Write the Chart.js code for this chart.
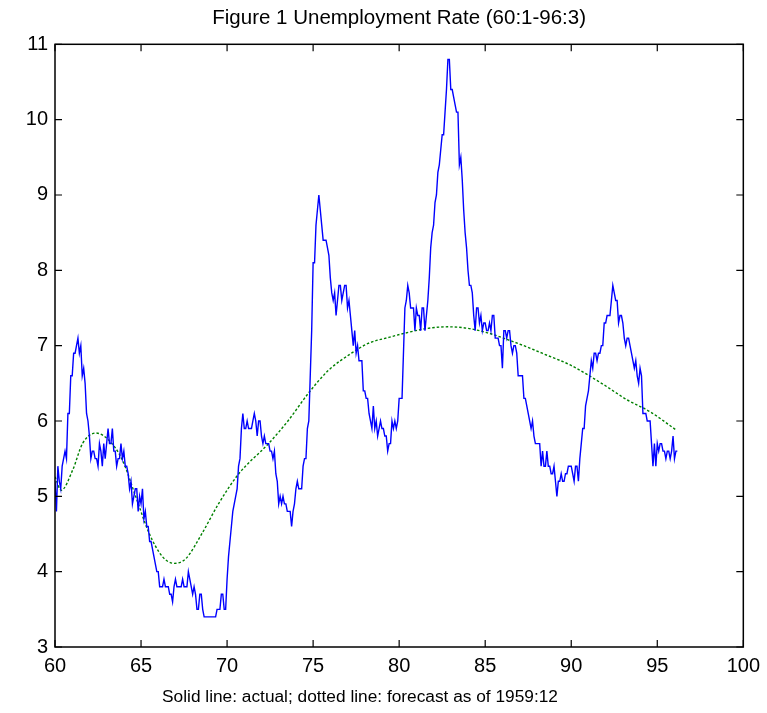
<!DOCTYPE html>
<html>
<head>
<meta charset="utf-8">
<title>Unemployment Rate</title>
<script src="https://cdn.jsdelivr.net/npm/chart.js@4.4.1/dist/chart.umd.min.js"></script>
<style>
  html,body{margin:0;padding:0;background:#fff;}
  #wrap{width:767px;height:713px;}
</style>
</head>
<body>
<div id="wrap"><canvas id="chart" width="767" height="713"></canvas></div>
<script>
// Texts
const titleText = 'Figure 1 Unemployment Rate (60:1-96:3)';
const xLabelText = 'Solid line: actual; dotted line: forecast as of 1959:12';

// Actual unemployment rate, monthly from 60:1 (one row per year)
const startYear = 60;
const actual = [
  5.2, 4.8, 5.4, 5.2, 5.1, 5.4, 5.5, 5.6, 5.5, 6.1, 6.1, 6.6,   // 60
  6.6, 6.9, 6.9, 7.0, 7.1, 6.9, 7.0, 6.6, 6.7, 6.5, 6.1, 6.0,   // 61
  5.8, 5.5, 5.6, 5.6, 5.5, 5.5, 5.4, 5.7, 5.6, 5.4, 5.7, 5.5,   // 62
  5.7, 5.9, 5.7, 5.7, 5.9, 5.6, 5.6, 5.4, 5.5, 5.5, 5.7, 5.5,   // 63
  5.6, 5.4, 5.4, 5.3, 5.1, 5.2, 4.9, 5.0, 5.1, 5.1, 4.8, 5.0,   // 64
  4.9, 5.1, 4.7, 4.8, 4.6, 4.6, 4.4, 4.4, 4.3, 4.2, 4.1, 4.0,   // 65
  4.0, 3.8, 3.8, 3.8, 3.9, 3.8, 3.8, 3.8, 3.7, 3.7, 3.6, 3.8,   // 66
  3.9, 3.8, 3.8, 3.8, 3.8, 3.9, 3.8, 3.8, 3.8, 4.0, 3.9, 3.8,   // 67
  3.7, 3.8, 3.7, 3.5, 3.5, 3.7, 3.7, 3.5, 3.4, 3.4, 3.4, 3.4,   // 68
  3.4, 3.4, 3.4, 3.4, 3.4, 3.5, 3.5, 3.5, 3.7, 3.7, 3.5, 3.5,   // 69
  3.9, 4.2, 4.4, 4.6, 4.8, 4.9, 5.0, 5.1, 5.4, 5.5, 5.9, 6.1,   // 70
  5.9, 5.9, 6.0, 5.9, 5.9, 5.9, 6.0, 6.1, 6.0, 5.8, 6.0, 6.0,   // 71
  5.8, 5.7, 5.8, 5.7, 5.7, 5.7, 5.6, 5.6, 5.5, 5.6, 5.3, 5.2,   // 72
  4.9, 5.0, 4.9, 5.0, 4.9, 4.9, 4.8, 4.8, 4.8, 4.6, 4.8, 4.9,   // 73
  5.1, 5.2, 5.1, 5.1, 5.1, 5.4, 5.5, 5.5, 5.9, 6.0, 6.6, 7.2,   // 74
  8.1, 8.1, 8.6, 8.8, 9.0, 8.8, 8.6, 8.4, 8.4, 8.4, 8.3, 8.2,   // 75
  7.9, 7.7, 7.6, 7.7, 7.4, 7.6, 7.8, 7.8, 7.6, 7.7, 7.8, 7.8,   // 76
  7.5, 7.6, 7.4, 7.2, 7.0, 7.2, 6.9, 7.0, 6.8, 6.8, 6.8, 6.4,   // 77
  6.4, 6.3, 6.3, 6.1, 6.0, 5.9, 6.2, 5.9, 6.0, 5.8, 5.9, 6.0,   // 78
  5.9, 5.9, 5.8, 5.8, 5.6, 5.7, 5.7, 6.0, 5.9, 6.0, 5.9, 6.0,   // 79
  6.3, 6.3, 6.3, 6.9, 7.5, 7.6, 7.8, 7.7, 7.5, 7.5, 7.5, 7.2,   // 80
  7.5, 7.4, 7.4, 7.2, 7.5, 7.5, 7.2, 7.4, 7.6, 7.9, 8.3, 8.5,   // 81
  8.6, 8.9, 9.0, 9.3, 9.4, 9.6, 9.8, 9.8, 10.1, 10.4, 10.8, 10.8, // 82
  10.4, 10.4, 10.3, 10.2, 10.1, 10.1, 9.4, 9.5, 9.2, 8.8, 8.5, 8.3, // 83
  8.0, 7.8, 7.8, 7.7, 7.4, 7.2, 7.5, 7.5, 7.3, 7.4, 7.2, 7.3,   // 84
  7.3, 7.2, 7.2, 7.3, 7.2, 7.4, 7.4, 7.1, 7.1, 7.1, 7.0, 7.0,   // 85
  6.7, 7.2, 7.2, 7.1, 7.2, 7.2, 7.0, 6.9, 7.0, 7.0, 6.9, 6.6,   // 86
  6.6, 6.6, 6.6, 6.3, 6.3, 6.2, 6.1, 6.0, 5.9, 6.0, 5.8, 5.7,   // 87
  5.7, 5.7, 5.7, 5.4, 5.6, 5.4, 5.4, 5.6, 5.4, 5.4, 5.3, 5.3,   // 88
  5.4, 5.2, 5.0, 5.2, 5.2, 5.3, 5.2, 5.2, 5.3, 5.3, 5.4, 5.4,   // 89
  5.4, 5.3, 5.2, 5.4, 5.4, 5.2, 5.5, 5.7, 5.9, 5.9, 6.2, 6.3,   // 90
  6.4, 6.6, 6.8, 6.7, 6.9, 6.9, 6.8, 6.9, 6.9, 7.0, 7.0, 7.3,   // 91
  7.3, 7.4, 7.4, 7.4, 7.6, 7.8, 7.7, 7.6, 7.6, 7.3, 7.4, 7.4,   // 92
  7.3, 7.1, 7.0, 7.1, 7.1, 7.0, 6.9, 6.8, 6.7, 6.8, 6.6, 6.5,   // 93
  6.7, 6.6, 6.1, 6.1, 6.1, 6.0, 6.0, 6.0, 5.7, 5.4, 5.7, 5.4,   // 94
  5.7, 5.6, 5.7, 5.7, 5.6, 5.6, 5.5, 5.6, 5.6, 5.5, 5.6, 5.8,   // 95
  5.5, 5.6, 5.6                                                 // 96
];

// Forecast as of 1959:12
const forecastX = [60.0, 60.36, 61.03, 61.6, 62.38, 63.15, 63.92, 64.7, 65.47, 66.24, 66.92, 67.59,
  68.55, 69.5, 70.68, 72.41, 73.57, 74.73, 75.88, 77.23, 78.2, 79.4, 80.6, 81.67, 82.83, 83.99,
  85.14, 86.3, 87.46, 88.62, 89.97, 91.9, 93.25, 94.6, 96.1];
const forecastY = [5.26, 5.08, 5.35, 5.70, 5.84, 5.74, 5.48, 4.99, 4.51, 4.20, 4.11, 4.17,
  4.51, 4.90, 5.30, 5.70, 6.01, 6.37, 6.67, 6.90, 7.03, 7.11, 7.18, 7.23, 7.25, 7.23,
  7.17, 7.08, 6.98, 6.87, 6.74, 6.48, 6.28, 6.12, 5.88];

// Axis ticks
const xTicks = [60, 65, 70, 75, 80, 85, 90, 95, 100];
const yTicks = [3, 4, 5, 6, 7, 8, 9, 10, 11];

const FONT = '"Liberation Sans", Arial, Helvetica, sans-serif';

// box round the axes with inward ticks on all four sides, plus the x label
const frame = {
  id: 'frame',
  afterDraw(chart){
    const {ctx, chartArea:a, scales:{x, y}} = chart;
    ctx.save();
    ctx.strokeStyle = '#000';
    ctx.lineWidth = 1.5;
    ctx.strokeRect(a.left, a.top, a.right - a.left, a.bottom - a.top);
    ctx.lineWidth = 1.2;
    ctx.beginPath();
    xTicks.forEach(v=>{
      const px = x.getPixelForValue(v);
      ctx.moveTo(px, a.bottom); ctx.lineTo(px, a.bottom - 7);
      ctx.moveTo(px, a.top); ctx.lineTo(px, a.top + 7);
    });
    yTicks.forEach(v=>{
      const py = y.getPixelForValue(v);
      ctx.moveTo(a.left, py); ctx.lineTo(a.left + 7, py);
      ctx.moveTo(a.right, py); ctx.lineTo(a.right - 7, py);
    });
    ctx.stroke();
    ctx.fillStyle = '#000';
    ctx.font = '17.3px ' + FONT;
    ctx.textAlign = 'center';
    ctx.textBaseline = 'middle';
    ctx.fillText(xLabelText, a.left + 305, 697);
    ctx.restore();
  }
};

new Chart(document.getElementById('chart'), {
  type: 'line',
  data: {
    datasets: [
      {
        label: 'actual',
        data: actual.map((v, i)=>({x: startYear + i/12, y: v})),
        borderColor: '#0000ff',
        borderWidth: 1.4,
        pointRadius: 0,
        tension: 0
      },
      {
        label: 'forecast',
        data: forecastX.map((v, i)=>({x: v, y: forecastY[i]})),
        borderColor: '#008000',
        borderWidth: 1.4,
        borderDash: [2.5, 2],
        pointRadius: 0,
        cubicInterpolationMode: 'monotone'
      }
    ]
  },
  options: {
    responsive: false,
    animation: false,
    devicePixelRatio: 1,
    layout: {padding: {left: 0, right: 20, top: 0, bottom: 0}},
    plugins: {
      legend: {display: false},
      tooltip: {enabled: false},
      title: {
        display: true,
        text: titleText,
        fullSize: false,
        color: '#000',
        font: {family: FONT, size: 20.5, weight: 'normal'},
        padding: {top: 6, bottom: 13.7}
      }
    },
    scales: {
      x: {
        type: 'linear',
        min: 60, max: 100,
        afterBuildTicks: s=>{ s.ticks = xTicks.map(v=>({value: v})); },
        afterFit: s=>{ s.height = 66; },
        grid: {display: false, drawTicks: false},
        border: {display: false},
        ticks: {color: '#000', font: {family: FONT, size: 20}, padding: 7, maxRotation: 0, autoSkip: false}
      },
      y: {
        type: 'linear',
        min: 3, max: 11,
        afterBuildTicks: s=>{ s.ticks = yTicks.map(v=>({value: v})); },
        afterFit: s=>{ s.width = 55; },
        grid: {display: false, drawTicks: false},
        border: {display: false},
        ticks: {color: '#000', font: {family: FONT, size: 20}, padding: 7, autoSkip: false}
      }
    }
  },
  plugins: [frame]
});
</script>
</body>
</html>
